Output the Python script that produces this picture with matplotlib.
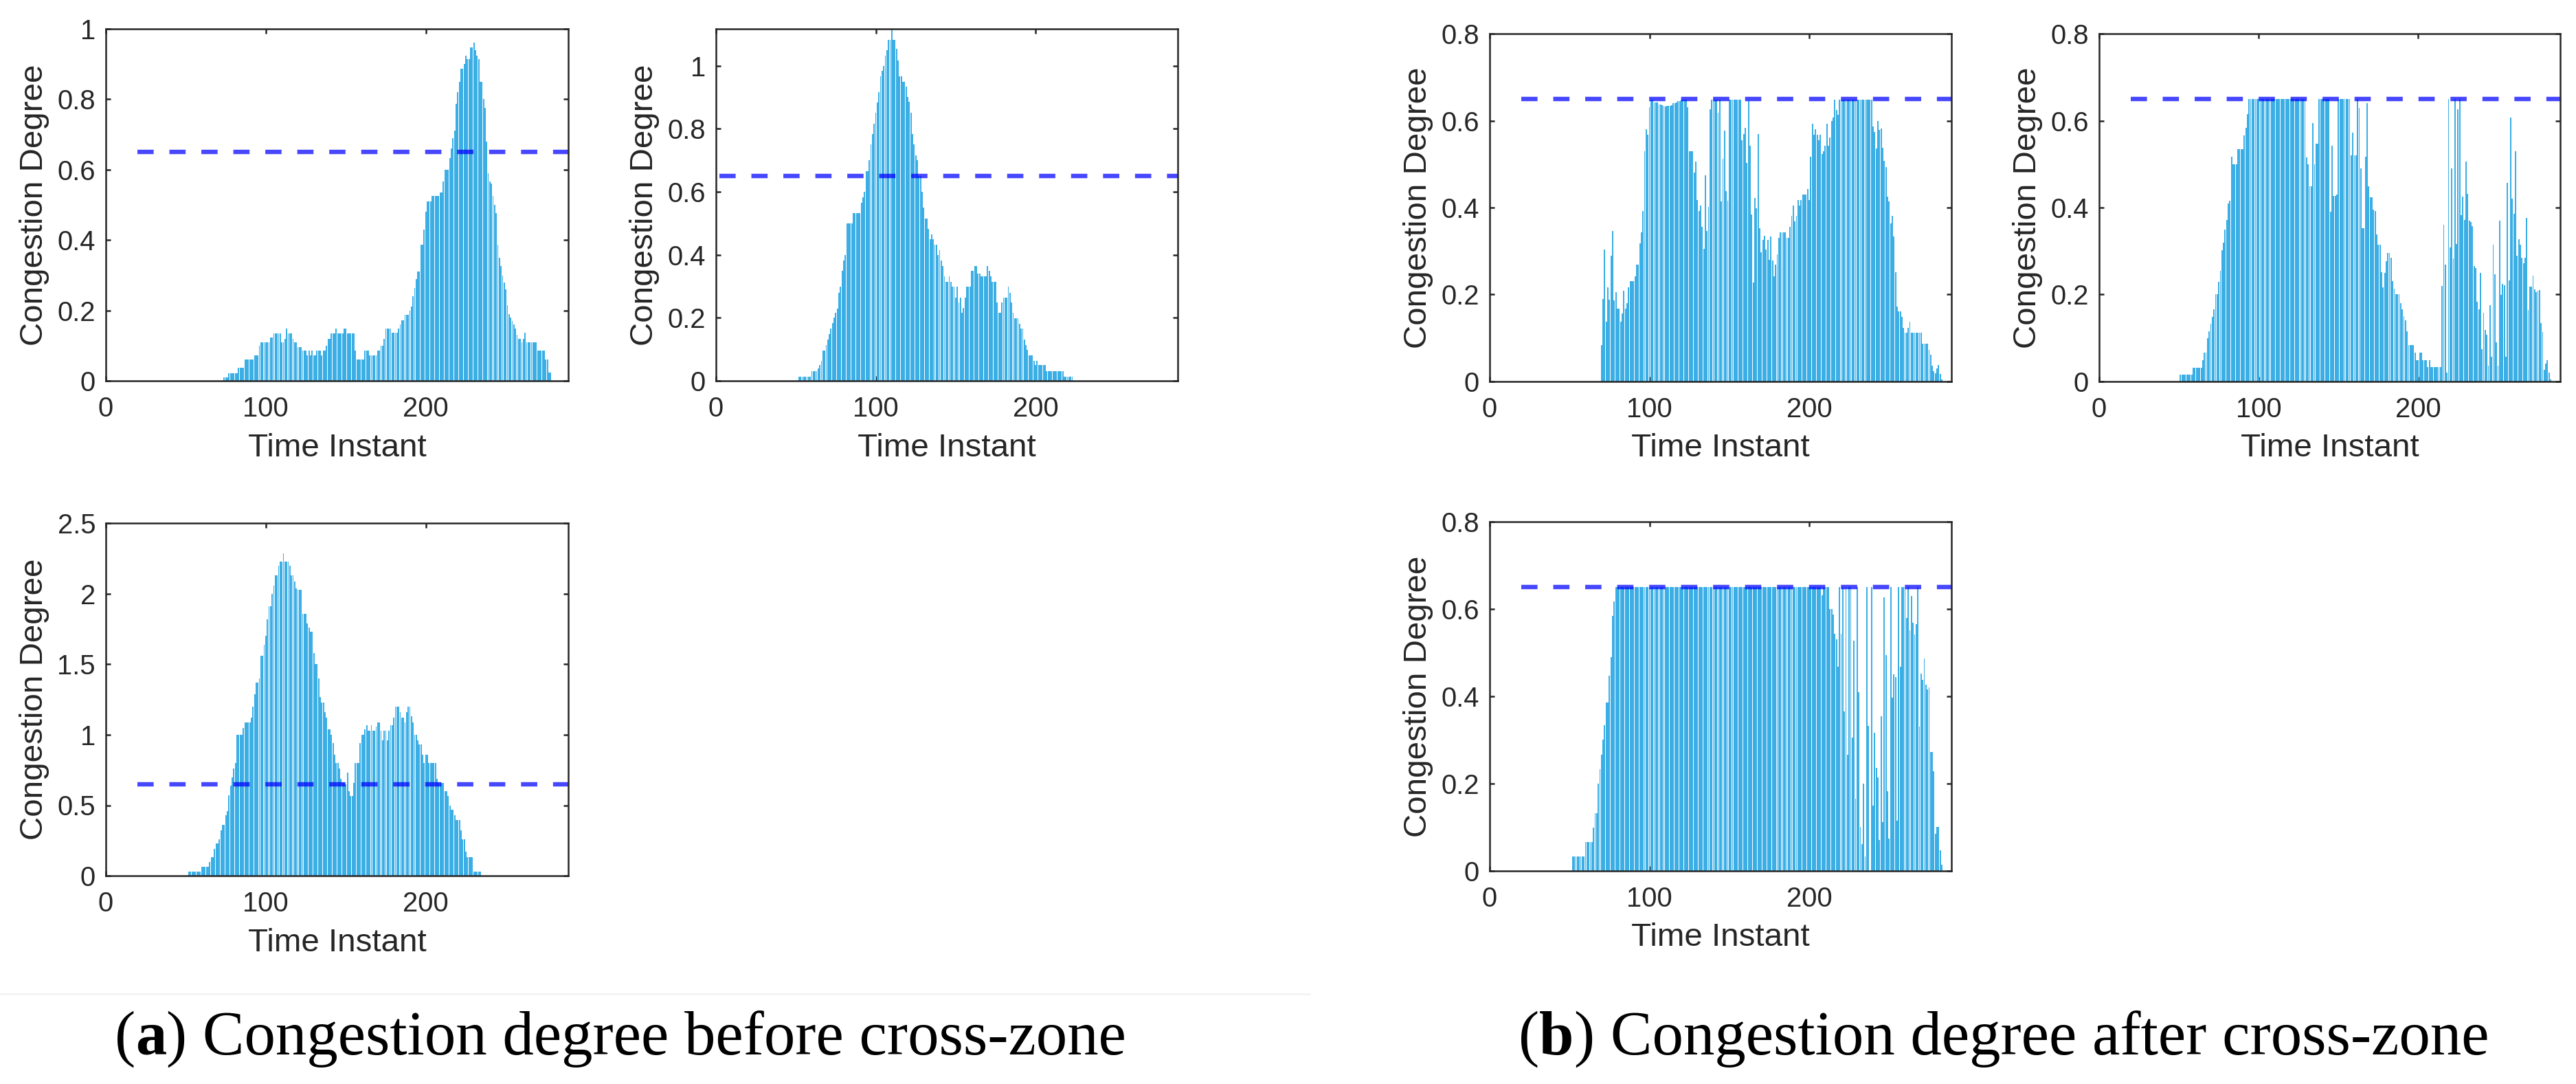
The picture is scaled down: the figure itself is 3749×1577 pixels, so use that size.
import numpy as np
import matplotlib
matplotlib.use("Agg")
import matplotlib.pyplot as plt
from matplotlib.lines import Line2D

# ---------------- data (value, number of consecutive time instants) ----------------
threshold = 0.65
xtick_vals = [0, 100, 200]
xtick_labels = ["0", "100", "200"]

# (a) before cross-zone
p1_start = 74
p1_runs = [(0.01, 3), (0.022, 6), (0.037, 4), (0.06, 6), (0.072, 3), (0.10, 1), (0.11, 6), (0.123, 2),
           (0.134, 5), (0.11, 2), (0.12, 1), (0.149, 1), (0.134, 3), (0.12, 1), (0.11, 2), (0.096, 3),
           (0.085, 3), (0.072, 1), (0.085, 1), (0.072, 1), (0.085, 1), (0.072, 2), (0.085, 3), (0.072, 1),
           (0.085, 2), (0.10, 1), (0.12, 2), (0.134, 3), (0.149, 1), (0.134, 4), (0.149, 2), (0.134, 5),
           (0.085, 1), (0.06, 5), (0.085, 3), (0.072, 5), (0.085, 2), (0.10, 2), (0.12, 1), (0.149, 4),
           (0.136, 4), (0.149, 1), (0.16, 1), (0.171, 2), (0.188, 3), (0.20, 1), (0.21, 1), (0.24, 1),
           (0.263, 1), (0.29, 1), (0.31, 2), (0.387, 2), (0.43, 1), (0.48, 1), (0.51, 3), (0.525, 5),
           (0.536, 2), (0.566, 1), (0.60, 3), (0.633, 1), (0.66, 1), (0.69, 1), (0.71, 1), (0.787, 1),
           (0.82, 1), (0.85, 1), (0.886, 2), (0.90, 1), (0.924, 1), (0.914, 2), (0.948, 2), (0.961, 1),
           (0.94, 1), (0.924, 1), (0.914, 1), (0.85, 2), (0.80, 1), (0.776, 1), (0.68, 1), (0.589, 1),
           (0.566, 1), (0.56, 1), (0.525, 1), (0.50, 1), (0.476, 1), (0.387, 1), (0.35, 1), (0.327, 1),
           (0.298, 1), (0.28, 1), (0.26, 1), (0.215, 1), (0.19, 1), (0.18, 1), (0.17, 1), (0.16, 1),
           (0.149, 1), (0.13, 1), (0.12, 2), (0.11, 1), (0.12, 1), (0.136, 1), (0.11, 7), (0.085, 5),
           (0.06, 2), (0.024, 2)]

p2_start = 52
p2_runs = [(0.014, 8), (0.031, 4), (0.04, 1), (0.05, 1), (0.064, 1), (0.096, 2), (0.114, 1), (0.13, 1),
           (0.148, 1), (0.165, 1), (0.183, 1), (0.20, 1), (0.216, 1), (0.23, 1), (0.28, 1), (0.298, 1),
           (0.348, 1), (0.382, 1), (0.40, 1), (0.50, 4), (0.532, 5), (0.566, 1), (0.582, 1), (0.60, 1),
           (0.666, 2), (0.70, 1), (0.75, 1), (0.783, 1), (0.816, 1), (0.85, 1), (0.883, 1), (0.916, 1),
           (0.967, 1), (0.983, 1), (1.0, 1), (1.033, 1), (1.05, 1), (1.083, 2), (1.117, 1), (1.083, 2),
           (1.054, 1), (1.017, 1), (0.967, 2), (0.95, 2), (0.933, 1), (0.90, 1), (0.885, 1), (0.85, 1),
           (0.783, 1), (0.75, 1), (0.716, 1), (0.70, 1), (0.65, 2), (0.60, 1), (0.549, 1), (0.515, 2),
           (0.482, 1), (0.449, 1), (0.465, 1), (0.449, 1), (0.432, 2), (0.40, 1), (0.415, 1), (0.382, 1),
           (0.365, 1), (0.332, 1), (0.315, 2), (0.332, 1), (0.315, 1), (0.298, 2), (0.265, 1), (0.298, 1),
           (0.248, 1), (0.265, 1), (0.215, 1), (0.231, 1), (0.265, 1), (0.298, 3), (0.348, 2), (0.365, 2),
           (0.34, 2), (0.332, 4), (0.365, 1), (0.348, 1), (0.332, 1), (0.315, 3), (0.248, 1), (0.215, 2),
           (0.248, 1), (0.265, 3), (0.298, 1), (0.28, 1), (0.248, 1), (0.215, 1), (0.198, 3), (0.18, 1),
           (0.165, 2), (0.13, 1), (0.114, 1), (0.098, 1), (0.081, 3), (0.064, 1), (0.05, 1), (0.064, 1),
           (0.05, 5), (0.031, 11), (0.014, 6)]

p3_start = 52
p3_runs = [(0.027, 8), (0.063, 5), (0.10, 1), (0.13, 2), (0.19, 1), (0.23, 2), (0.26, 1), (0.32, 1),
           (0.36, 2), (0.43, 1), (0.46, 1), (0.57, 1), (0.64, 1), (0.70, 1), (0.76, 1), (0.80, 1),
           (1.0, 4), (1.05, 1), (1.09, 4), (1.12, 1), (1.2, 1), (1.29, 1), (1.37, 2), (1.40, 1),
           (1.56, 2), (1.64, 1), (1.70, 1), (1.82, 1), (1.91, 2), (2.0, 1), (2.06, 1), (2.13, 2),
           (2.2, 1), (2.23, 2), (2.29, 1), (2.23, 3), (2.2, 1), (2.13, 2), (2.09, 1), (2.04, 1),
           (2.03, 3), (1.86, 3), (1.79, 1), (1.76, 1), (1.73, 2), (1.58, 1), (1.5, 2), (1.4, 1),
           (1.27, 1), (1.23, 2), (1.16, 1), (1.12, 1), (1.04, 2), (1.0, 1), (0.94, 1), (0.86, 1),
           (0.80, 2), (0.76, 1), (0.69, 1), (0.66, 2), (0.65, 1), (0.73, 1), (0.60, 1), (0.566, 2),
           (0.66, 1), (0.80, 3), (0.94, 1), (1.0, 2), (1.04, 1), (1.07, 1), (1.03, 2), (1.07, 1),
           (1.03, 2), (1.06, 1), (1.09, 2), (1.03, 1), (0.96, 1), (1.03, 2), (0.96, 1), (1.03, 1),
           (1.07, 2), (1.12, 1), (1.2, 3), (1.16, 1), (1.12, 2), (1.09, 1), (1.16, 1), (1.2, 2),
           (1.13, 1), (1.09, 1), (1.0, 2), (0.96, 1), (0.93, 2), (0.86, 1), (0.80, 1), (0.86, 2),
           (0.80, 5), (0.69, 1), (0.66, 4), (0.60, 2), (0.566, 1), (0.50, 1), (0.467, 2), (0.43, 1),
           (0.395, 3), (0.323, 1), (0.26, 2), (0.17, 1), (0.13, 4), (0.027, 5)]

# (b) after cross-zone
p4_start = 70
p4_runs = [(0.083, 1), (0.19, 1), (0.303, 1), (0.138, 1), (0.217, 1), (0.188, 1), (0.29, 1), (0.346, 1),
           (0.186, 1), (0.205, 1), (0.168, 2), (0.138, 1), (0.156, 1), (0.209, 1), (0.168, 1), (0.18, 1),
           (0.217, 1), (0.23, 3), (0.242, 1), (0.268, 2), (0.318, 1), (0.343, 1), (0.393, 1), (0.53, 1),
           (0.58, 1), (0.568, 1), (0.631, 1), (0.648, 2), (0.643, 2), (0.642, 1), (0.638, 1), (0.637, 1),
           (0.636, 1), (0.634, 1), (0.633, 1), (0.634, 1), (0.635, 2), (0.636, 1), (0.64, 1), (0.641, 1),
           (0.643, 1), (0.646, 2), (0.648, 4), (0.632, 1), (0.53, 3), (0.481, 1), (0.506, 1), (0.417, 1),
           (0.392, 1), (0.405, 1), (0.356, 1), (0.305, 1), (0.475, 1), (0.346, 1), (0.401, 1), (0.627, 1),
           (0.648, 4), (0.619, 1), (0.648, 1), (0.415, 1), (0.513, 1), (0.577, 1), (0.438, 1), (0.416, 1),
           (0.649, 8), (0.555, 1), (0.57, 1), (0.583, 1), (0.503, 1), (0.646, 1), (0.543, 1), (0.385, 1),
           (0.227, 1), (0.422, 1), (0.398, 1), (0.57, 1), (0.353, 1), (0.297, 1), (0.325, 1), (0.335, 1),
           (0.304, 1), (0.326, 1), (0.28, 1), (0.334, 1), (0.278, 1), (0.242, 1), (0.268, 1), (0.292, 1),
           (0.33, 1), (0.343, 4), (0.33, 2), (0.356, 1), (0.381, 1), (0.405, 1), (0.368, 1), (0.381, 1),
           (0.418, 1), (0.405, 1), (0.418, 1), (0.43, 3), (0.443, 1), (0.418, 1), (0.518, 1), (0.593, 1),
           (0.568, 1), (0.58, 1), (0.568, 1), (0.555, 1), (0.568, 1), (0.524, 1), (0.53, 1), (0.543, 1),
           (0.593, 1), (0.543, 1), (0.561, 1), (0.599, 1), (0.607, 1), (0.648, 1), (0.625, 1), (0.614, 1),
           (0.649, 21), (0.587, 1), (0.574, 1), (0.537, 1), (0.60, 1), (0.579, 1), (0.582, 1), (0.538, 1),
           (0.508, 1), (0.494, 1), (0.425, 1), (0.415, 1), (0.363, 1), (0.381, 1), (0.334, 1), (0.252, 1),
           (0.173, 1), (0.161, 2), (0.149, 1), (0.123, 1), (0.112, 2), (0.123, 1), (0.137, 1), (0.112, 7),
           (0.086, 4), (0.073, 1), (0.061, 1), (0.036, 1), (0.024, 1), (0.019, 1), (0.03, 1), (0.037, 1),
           (0.017, 1), (0.004, 1)]

p5_start = 51
p5_runs = [(0.016, 8), (0.032, 6), (0.048, 1), (0.066, 2), (0.10, 1), (0.116, 1), (0.133, 1), (0.149, 1),
           (0.166, 1), (0.20, 2), (0.229, 1), (0.255, 1), (0.302, 1), (0.32, 1), (0.35, 1), (0.371, 1),
           (0.409, 1), (0.416, 1), (0.518, 1), (0.50, 3), (0.534, 4), (0.567, 1), (0.584, 1), (0.615, 1),
           (0.65, 36), (0.516, 1), (0.50, 1), (0.45, 2), (0.595, 1), (0.50, 1), (0.548, 2), (0.65, 7),
           (0.39, 1), (0.543, 1), (0.427, 2), (0.43, 1), (0.65, 8), (0.52, 1), (0.572, 1), (0.52, 2),
           (0.65, 1), (0.63, 1), (0.49, 1), (0.352, 2), (0.518, 1), (0.64, 1), (0.45, 1), (0.424, 2),
           (0.396, 1), (0.393, 1), (0.339, 1), (0.315, 2), (0.252, 1), (0.216, 1), (0.25, 1), (0.277, 1),
           (0.296, 2), (0.284, 1), (0.23, 1), (0.213, 1), (0.20, 3), (0.18, 1), (0.166, 1), (0.15, 1),
           (0.141, 1), (0.116, 1), (0.083, 4), (0.066, 1), (0.049, 2), (0.066, 2), (0.049, 3), (0.033, 1),
           (0.049, 1), (0.033, 7),
           (0.219, 1), (0.361, 1), (0.268, 1), (0.021, 1), (0.65, 1), (0.309, 1), (0.49, 1), (0.283, 1),
           (0.65, 1), (0.317, 1), (0.626, 1), (0.65, 1), (0.383, 1), (0.425, 1), (0.372, 1), (0.507, 1),
           (0.432, 1), (0.37, 1), (0.367, 1), (0.358, 1), (0.266, 1), (0.261, 1), (0.183, 1), (0.166, 1),
           (0.249, 1), (0.074, 1), (0.158, 1), (0.118, 1), (0.107, 1), (0.036, 1), (0.175, 1), (0.056, 1),
           (0.314, 1), (0.247, 1), (0.09, 1), (0.036, 1), (0.37, 1), (0.199, 1), (0.225, 1), (0.221, 1),
           (0.056, 1), (0.457, 1), (0.232, 1), (0.608, 1), (0.42, 1), (0.386, 1), (0.53, 1), (0.289, 1),
           (0.327, 1), (0.315, 1), (0.285, 1), (0.272, 1), (0.284, 1), (0.376, 1), (0.164, 1), (0.218, 2),
           (0.243, 1), (0.212, 1), (0.205, 1), (0.209, 1), (0.211, 1), (0.135, 1), (0.114, 1), (0.026, 1),
           (0.041, 1), (0.049, 1), (0.021, 1), (0.005, 1)]

p6_start = 52
p6_runs = [(0.032, 8), (0.065, 5), (0.099, 1), (0.132, 2), (0.20, 1), (0.232, 1), (0.266, 1), (0.30, 1),
           (0.333, 1), (0.386, 2), (0.447, 1), (0.49, 1), (0.585, 1), (0.618, 1), (0.65, 129), (0.632, 1),
           (0.65, 4),
           (0.60, 2), (0.588, 1), (0.544, 1), (0.531, 1), (0.467, 1), (0.65, 1), (0.544, 1), (0.65, 1),
           (0.366, 1), (0.65, 1), (0.266, 1), (0.65, 2), (0.306, 1), (0.528, 1), (0.165, 1), (0.65, 1),
           (0.41, 1), (0.10, 1), (0.06, 1), (0.20, 1), (0.032, 1), (0.65, 1), (0.332, 1), (0.0, 1),
           (0.65, 1), (0.149, 1), (0.317, 1), (0.236, 1), (0.214, 1), (0.07, 1), (0.354, 1), (0.111, 1),
           (0.627, 1), (0.494, 1), (0.183, 1), (0.074, 1), (0.65, 1), (0.397, 1), (0.45, 1), (0.444, 1),
           (0.115, 1), (0.65, 1), (0.467, 1), (0.65, 3), (0.58, 1), (0.65, 1), (0.551, 1), (0.631, 1),
           (0.569, 1), (0.542, 1), (0.566, 1), (0.65, 1), (0.33, 1), (0.452, 1), (0.437, 1), (0.487, 1),
           (0.426, 1), (0.415, 1), (0.42, 1), (0.272, 2), (0.228, 1), (0.084, 1), (0.10, 2), (0.047, 1),
           (0.013, 1)]

yt_01 = [0, 0.2, 0.4, 0.6, 0.8, 1]
yl_01 = ["0", "0.2", "0.4", "0.6", "0.8", "1"]
yt_25 = [0, 0.5, 1, 1.5, 2, 2.5]
yl_25 = ["0", "0.5", "1", "1.5", "2", "2.5"]
yt_08 = [0, 0.2, 0.4, 0.6, 0.8]
yl_08 = ["0", "0.2", "0.4", "0.6", "0.8"]

caption_a = ("a", ") Congestion degree before cross-zone")
caption_b = ("b", ") Congestion degree after cross-zone")

# ---------------- figure ----------------
W, H, DPI = 3749, 1577, 300
plt.rcParams["font.family"] = ["Liberation Sans", "DejaVu Sans"]
fig = plt.figure(figsize=(W / DPI, H / DPI), dpi=DPI, facecolor="white")

BAR_COLOR = "#3AAEE5"
AX_COLOR = "#262626"
TICK_FS = 9.6
LAB_FS = 11.4
PX = 72.0 / DPI  # points per pixel


def expand(start, runs):
    vals = np.concatenate([np.full(n, v, dtype=float) for v, n in runs])
    t = np.arange(start, start + len(vals))
    return t, vals


def make_panel(box, start, runs, ylim, yticks, ylabels, dash_px):
    x0, y0, x1, y1 = box
    w, h = x1 - x0, y1 - y0
    ax = fig.add_axes([x0 / W, 1 - y1 / H, w / W, h / H])
    t, v = expand(start, runs)
    ax.bar(t, v, width=0.8, color=BAR_COLOR, linewidth=0, zorder=2)
    xmax = 289
    ax.set_xlim(0, xmax)
    ax.set_ylim(*ylim)
    # dashed threshold line
    x_start = dash_px / (w / xmax)
    ax.plot([x_start, xmax], [threshold, threshold], color=(0.0, 0.0, 1.0), alpha=0.72,
            lw=6.4 * PX, linestyle=(0, (3.69, 3.58)), dash_capstyle="butt", zorder=3)
    ax.set_xticks(xtick_vals)
    ax.set_xticklabels(xtick_labels)
    ax.set_yticks(yticks)
    ax.set_yticklabels(ylabels)
    ax.tick_params(direction="in", top=True, right=True, length=6.7 * PX, width=0.6,
                   color=AX_COLOR, labelcolor=AX_COLOR, labelsize=TICK_FS)
    ax.tick_params(axis="x", pad=5.3)
    ax.tick_params(axis="y", pad=3.6)
    for s in ax.spines.values():
        s.set_linewidth(0.6)
        s.set_color(AX_COLOR)
        s.set_zorder(4)
    ax.set_xlabel("Time Instant", fontsize=LAB_FS, color=AX_COLOR)
    ax.set_ylabel("Congestion Degree", fontsize=LAB_FS, color=AX_COLOR)
    ax.xaxis.set_label_coords(0.5, -75.7 / h)
    ax.yaxis.set_label_coords(-82.0 / w, 0.5)
    return ax


make_panel((154, 42, 827, 554), p1_start, p1_runs, (0, 1), yt_01, yl_01, 46)
make_panel((1042, 42, 1714, 554), p2_start, p2_runs, (0, 1.117), yt_01, yl_01, 5)
make_panel((154, 761.5, 827, 1274), p3_start, p3_runs, (0, 2.5), yt_25, yl_25, 46)
make_panel((2168, 49.4, 2840, 554.8), p4_start, p4_runs, (0, 0.8), yt_08, yl_08, 46)
make_panel((3055, 49.4, 3726, 554.8), p5_start, p5_runs, (0, 0.8), yt_08, yl_08, 46)
make_panel((2168, 759.4, 2840, 1266.5), p6_start, p6_runs, (0, 0.8), yt_08, yl_08, 46)

# faint separator line of the sub-figure images
fig.add_artist(Line2D([0, 1906 / W], [1 - 1446 / H] * 2, color="#f2f2f2", lw=0.6))

# ---------------- captions ----------------
SERIF = ["Liberation Serif", "DejaVu Serif"]
renderer = fig.canvas.get_renderer()


def build_caption(x_left, base, letter, rest, fs):
    objs = []
    x = x_left
    for s, wgt in (("(", "normal"), (letter, "bold"), (rest, "normal")):
        tx = fig.text(x / W, 1 - base / H, s, fontsize=fs, fontweight=wgt, family=SERIF,
                      va="baseline", ha="left", color="black")
        bb = tx.get_window_extent(renderer)
        x += bb.width
        objs.append(tx)
    return objs, x - x_left


objs, wid = build_caption(2210, 1534, caption_b[0], caption_b[1], 20)
for o in objs:
    o.remove()
fs_cap = 20 * 1411.0 / wid
build_caption(2210, 1534, caption_b[0], caption_b[1], fs_cap)
build_caption(167, 1534, caption_a[0], caption_a[1], fs_cap)

fig.savefig("out.png", dpi=DPI, facecolor="white")
